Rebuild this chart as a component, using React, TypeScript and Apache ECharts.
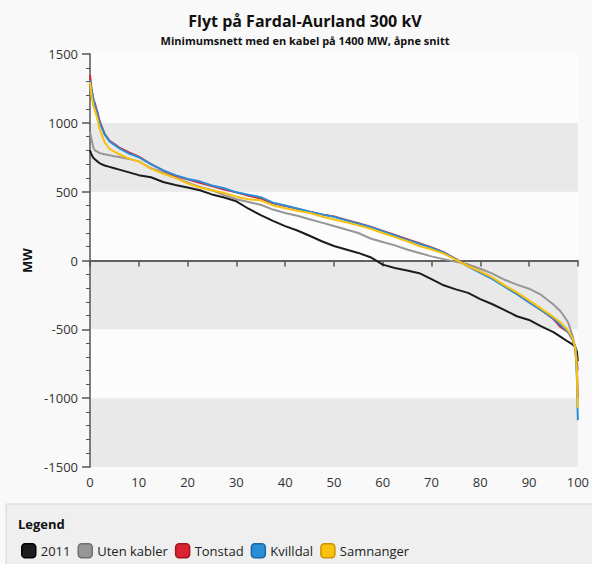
import React, { useEffect, useRef } from "react";
import * as echarts from "echarts";

// Percentage of time (x) shared by every duration curve
const xs = [0, 0.3, 0.7, 1, 1.5, 2, 3, 4, 5, 6, 8, 10, 12.5, 15, 17.5, 20, 22.5, 25, 27.5, 30, 32.5, 35, 37.5, 40, 42.5, 45, 47.5, 50, 52.5, 55, 57.5, 60, 62.5, 65, 67.5, 70, 72.5, 75, 77.5, 80, 82.5, 85, 87.5, 90, 92.5, 95, 96.5, 98, 99, 99.5, 99.8, 100];

const s2011 = [800, 770, 745, 735, 720, 706, 690, 680, 670, 660, 640, 620, 605, 570, 548, 530, 510, 480, 458, 430, 376, 330, 288, 250, 218, 180, 140, 105, 80, 55, 24, -30, -55, -72, -92, -135, -180, -210, -235, -280, -318, -360, -405, -432, -478, -520, -555, -590, -612, -630, -660, -730];

const sUten = [934, 880, 820, 800, 790, 780, 772, 765, 758, 752, 738, 720, 670, 640, 605, 565, 535, 510, 475, 445, 425, 405, 370, 345, 325, 300, 275, 250, 225, 200, 160, 135, 110, 80, 55, 30, 10, -10, -28, -60, -95, -140, -175, -205, -250, -320, -370, -449, -558, -650, -720, -800];

const sTonstad = [1347, 1250, 1170, 1141, 1080, 1010, 920, 870, 845, 820, 785, 755, 700, 655, 615, 590, 565, 540, 515, 495, 470, 450, 415, 395, 375, 355, 335, 320, 295, 270, 245, 215, 185, 155, 125, 95, 60, 10, -40, -85, -130, -185, -240, -300, -360, -425, -485, -520, -580, -640, -780, -1000];

const sKvilldal = [1311, 1240, 1170, 1130, 1070, 1000, 915, 865, 840, 815, 777, 750, 700, 655, 620, 592, 575, 545, 525, 495, 478, 460, 420, 400, 378, 355, 335, 318, 292, 268, 243, 212, 182, 150, 122, 92, 58, 8, -42, -90, -135, -190, -245, -305, -360, -420, -470, -520, -575, -640, -850, -1160];

const sSamnanger = [1296, 1200, 1120, 1092, 1030, 950, 860, 810, 790, 772, 740, 720, 667, 630, 600, 560, 530, 510, 490, 463, 445, 437, 400, 380, 362, 345, 320, 298, 278, 255, 231, 200, 170, 140, 105, 80, 50, 5, -40, -80, -125, -180, -232, -290, -350, -410, -450, -510, -570, -640, -800, -1070];

const seriesNames = ["2011", "Uten kabler", "Tonstad", "Kvilldal", "Samnanger"];
const seriesValues = [s2011, sUten, sTonstad, sKvilldal, sSamnanger];
const seriesColors = ["#1c1c1c", "#969696", "#d92430", "#2b8fd8", "#f9c20f"];
const legendBorders = ["#000000", "#6e6e6e", "#a3161f", "#1b68a3", "#c99400"];

const titleText = "Flyt på Fardal-Aurland 300 kV";
const subtitleText = "Minimumsnett med en kabel på 1400 MW, åpne snitt";
const yAxisName = "MW";
const legendTitle = "Legend";

export default function App() {
  const ref = useRef<HTMLDivElement>(null);

  useEffect(() => {
    if (!ref.current) return;
    const chart = echarts.init(ref.current, undefined, { renderer: "svg" });
    const font = "'Open Sans', 'Noto Sans', sans-serif";

    const series: any[] = seriesNames.map((name, k) => ({
      name,
      type: "line",
      showSymbol: false,
      symbol: "none",
      data: xs.map((x, i) => [x, seriesValues[k][i]]),
      lineStyle: { color: seriesColors[k], width: 2 },
      itemStyle: { color: seriesColors[k], borderColor: seriesColors[k] },
      z: 3,
    }));
    series[0].markLine = {
      silent: true,
      symbol: ["none", "none"],
      label: { show: false },
      lineStyle: { color: "#606060", width: 2, type: "solid" },
      data: [{ yAxis: 0 }],
      z: 2,
    };

    chart.setOption({
      animation: false,
      backgroundColor: "#f9f9f9",
      textStyle: { fontFamily: font },
      title: [
        {
          text: titleText,
          left: 300,
          top: 8,
          textAlign: "center",
          textStyle: { fontSize: 16, fontWeight: "bold", color: "#111", fontFamily: font },
        },
        {
          text: subtitleText,
          left: 300,
          top: 30,
          textAlign: "center",
          textStyle: { fontSize: 11, fontWeight: "bold", color: "#111", fontFamily: font },
        },
      ],
      grid: { left: 90, right: 9, top: 54, bottom: 97, containLabel: false },
      xAxis: {
        type: "value",
        min: 0,
        max: 100,
        interval: 10,
        axisLine: { show: true, lineStyle: { color: "#555", width: 1.5 } },
        axisTick: { show: true, length: 6, lineStyle: { color: "#555", width: 1.5 } },
        splitLine: { show: false },
        axisLabel: { fontSize: 13, color: "#333", margin: 8, fontFamily: font },
      },
      yAxis: {
        type: "value",
        min: -1500,
        max: 1500,
        interval: 500,
        name: yAxisName,
        nameLocation: "middle",
        nameGap: 52,
        nameTextStyle: { fontSize: 13, fontWeight: "bold", color: "#111", fontFamily: font },
        axisLine: { show: true, lineStyle: { color: "#555", width: 1.5 } },
        axisTick: { show: true, length: 8, lineStyle: { color: "#555", width: 1.5 } },
        minorTick: { show: true, splitNumber: 5, length: 4, lineStyle: { color: "#555", width: 1 } },
        splitLine: { show: false },
        splitArea: { show: true, areaStyle: { color: ["#e9e9e9", "#fcfcfc"] } },
        axisLabel: {
          fontSize: 13,
          color: "#333",
          margin: 12,
          fontFamily: font,
          formatter: (v: number) => String(v),
        },
      },
      legend: {
        left: 16,
        top: 538,
        icon: "roundRect",
        itemWidth: 14,
        itemHeight: 14,
        itemGap: 7,
        textStyle: { fontSize: 13, color: "#222", fontFamily: font },
        data: seriesNames.map((n, k) => ({
          name: n,
          itemStyle: { color: seriesColors[k], borderColor: legendBorders[k], borderWidth: 1.5 },
        })),
      },
      graphic: [
        {
          type: "rect",
          z: -10,
          shape: { x: 6, y: 504, width: 590, height: 64 },
          style: { fill: "#efefef", stroke: "#d6d6d6", lineWidth: 1 },
        },
        {
          type: "text",
          x: 18,
          y: 517,
          style: { text: legendTitle, fontSize: 13, fontWeight: "bold", fill: "#111", fontFamily: font },
        },
      ],
      series,
    });

    return () => chart.dispose();
  }, []);

  return (
    <div
      ref={ref}
      style={{ position: "fixed", left: 0, top: 0, width: 592, height: 564 }}
    />
  );
}
